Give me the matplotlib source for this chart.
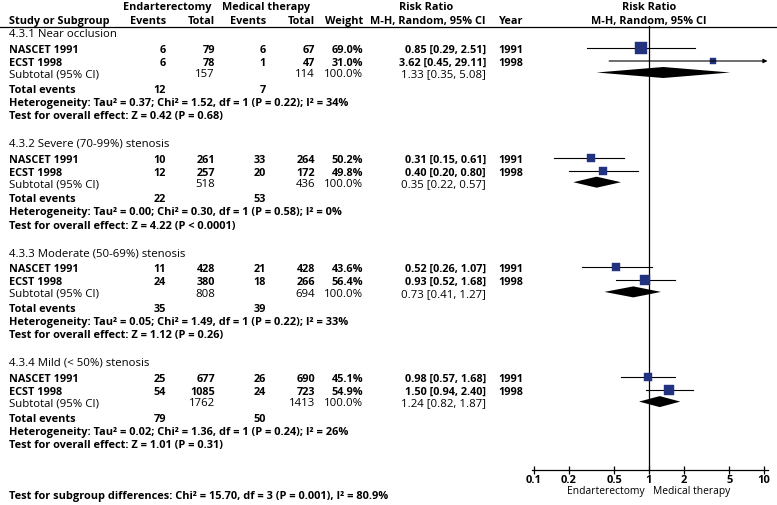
import matplotlib
matplotlib.use("Agg")
import matplotlib.pyplot as plt
import numpy as np

# subgroup data (Risk Ratio, M-H, Random, 95% CI)
subgroups = ["4.3.1 Near occlusion", "4.3.2 Severe (70-99%) stenosis",
             "4.3.3 Moderate (50-69%) stenosis", "4.3.4 Mild (< 50%) stenosis"]
studies = ["NASCET 1991", "ECST 1998"]
years = ["1991", "1998"]

end_events = [[6, 6], [10, 12], [11, 24], [25, 54]]
end_total = [[79, 78], [261, 257], [428, 380], [677, 1085]]
med_events = [[6, 1], [33, 20], [21, 18], [26, 24]]
med_total = [[67, 47], [264, 172], [428, 266], [690, 723]]
weights = [[69.0, 31.0], [50.2, 49.8], [43.6, 56.4], [45.1, 54.9]]

rr = [[0.85, 3.62], [0.31, 0.40], [0.52, 0.93], [0.98, 1.50]]
rr_lo = [[0.29, 0.45], [0.15, 0.20], [0.26, 0.52], [0.57, 0.94]]
rr_hi = [[2.51, 29.11], [0.61, 0.80], [1.07, 1.68], [1.68, 2.40]]

sub_rr = [1.33, 0.35, 0.73, 1.24]
sub_lo = [0.35, 0.22, 0.41, 0.82]
sub_hi = [5.08, 0.57, 1.27, 1.87]
sub_end_total = [157, 518, 808, 1762]
sub_med_total = [114, 436, 694, 1413]
tot_end_events = [12, 22, 35, 79]
tot_med_events = [7, 53, 39, 50]

heterogeneity = [
    "Heterogeneity: Tau\u00b2 = 0.37; Chi\u00b2 = 1.52, df = 1 (P = 0.22); I\u00b2 = 34%",
    "Heterogeneity: Tau\u00b2 = 0.00; Chi\u00b2 = 0.30, df = 1 (P = 0.58); I\u00b2 = 0%",
    "Heterogeneity: Tau\u00b2 = 0.05; Chi\u00b2 = 1.49, df = 1 (P = 0.22); I\u00b2 = 33%",
    "Heterogeneity: Tau\u00b2 = 0.02; Chi\u00b2 = 1.36, df = 1 (P = 0.24); I\u00b2 = 26%",
]
overall = [
    "Test for overall effect: Z = 0.42 (P = 0.68)",
    "Test for overall effect: Z = 4.22 (P < 0.0001)",
    "Test for overall effect: Z = 1.12 (P = 0.26)",
    "Test for overall effect: Z = 1.01 (P = 0.31)",
]
subgroup_diff = "Test for subgroup differences: Chi\u00b2 = 15.70, df = 3 (P = 0.001), I\u00b2 = 80.9%"

ticks = [0.1, 0.2, 0.5, 1, 2, 5, 10]
tick_labels = ["0.1", "0.2", "0.5", "1", "2", "5", "10"]

plt.rcParams["font.family"] = ["Open Sans", "DejaVu Sans"]

W, H = 777, 506
FS_B = 7.8     # bold table text
FS_N = 8.2     # normal table text
FS_S = 7.9     # summary lines
DY = 1.3       # vertical nudge for text baseline
NAVY = "#22327f"

fig = plt.figure(figsize=(W / 100, H / 100), dpi=100)

# text layer in pixel coordinates
bg = fig.add_axes([0, 0, 1, 1])
bg.set_xlim(0, W)
bg.set_ylim(H, 0)
bg.axis("off")

# forest panel: 1 at x=649px, 115px per decade
x_one, dec = 649, 115
lo_px, hi_px = 532, 768
top_px, axis_px = 27, 470.5
ax = fig.add_axes([lo_px / W, 1 - axis_px / H, (hi_px - lo_px) / W, (axis_px - top_px) / H])
ax.set_xscale("log")
ax.set_xlim(10 ** ((lo_px - x_one) / dec), 10 ** ((hi_px - x_one) / dec))
ax.set_ylim(axis_px, top_px)
ax.patch.set_alpha(0)
for s in ["top", "left", "right"]:
    ax.spines[s].set_visible(False)
ax.spines["bottom"].set_linewidth(0.9)
ax.set_yticks([])
ax.set_xticks(ticks)
ax.set_xticklabels(tick_labels, fontsize=8, fontweight="bold")
ax.xaxis.set_minor_locator(matplotlib.ticker.NullLocator())
ax.tick_params(axis="x", direction="inout", length=6, width=0.9, pad=0)
ax.axvline(1, color="black", lw=0.9)

ax.text(1 / 1.1, axis_px + 21.5, "Endarterectomy", ha="right", va="center", fontsize=7.4,
        transform=ax.transData, clip_on=False)
ax.text(1.09, axis_px + 21.5, "Medical therapy", ha="left", va="center", fontsize=7.4,
        transform=ax.transData, clip_on=False)

# column positions (px)
c_name = 9
c_ee, c_et, c_me, c_mt, c_w = 166, 215, 266, 315, 363
c_rr, c_year = 486, 523


def txt(x, y, s, ha="left", bold=False, size=None):
    if size is None:
        size = FS_B if bold else FS_N
    bg.text(x, y + DY, s, ha=ha, va="center", fontsize=size,
            fontweight="bold" if bold else "normal")


# header
txt(167, 6, "Endarterectomy", ha="center", bold=True)
txt(266, 6, "Medical therapy", ha="center", bold=True)
txt(426, 6, "Risk Ratio", ha="center", bold=True)
txt(649, 6, "Risk Ratio", ha="center", bold=True)
txt(c_name, 20, "Study or Subgroup", bold=True)
txt(c_ee, 20, "Events", ha="right", bold=True)
txt(c_et, 20, "Total", ha="right", bold=True)
txt(c_me, 20, "Events", ha="right", bold=True)
txt(c_mt, 20, "Total", ha="right", bold=True)
txt(c_w, 20, "Weight", ha="right", bold=True)
txt(c_rr, 20, "M-H, Random, 95% CI", ha="right", bold=True)
txt(c_year, 20, "Year", ha="right", bold=True)
txt(649, 20, "M-H, Random, 95% CI", ha="center", bold=True)
bg.plot([0, W], [27.5, 27.5], color="black", lw=0.9)

for g in range(len(subgroups)):
    y0 = 33 + 109.7 * g
    txt(c_name, y0, subgroups[g])
    for i in range(len(studies)):
        y = y0 + 16 + 13 * i
        txt(c_name, y, studies[i], bold=True)
        txt(c_ee, y, str(end_events[g][i]), ha="right", bold=True)
        txt(c_et, y, str(end_total[g][i]), ha="right", bold=True)
        txt(c_me, y, str(med_events[g][i]), ha="right", bold=True)
        txt(c_mt, y, str(med_total[g][i]), ha="right", bold=True)
        txt(c_w, y, "%.1f%%" % weights[g][i], ha="right", bold=True)
        txt(c_rr, y, "%.2f [%.2f, %.2f]" % (rr[g][i], rr_lo[g][i], rr_hi[g][i]), ha="right", bold=True)
        txt(c_year, y, years[i], ha="right", bold=True)

        # CI line, arrow if it runs off the scale
        if rr_hi[g][i] > ax.get_xlim()[1]:
            ax.annotate("", xy=(ax.get_xlim()[1] * 0.99, y), xytext=(rr_lo[g][i], y),
                        arrowprops=dict(arrowstyle="-|>", lw=0.8, color="black",
                                        mutation_scale=6, shrinkA=0, shrinkB=0),
                        annotation_clip=False)
        else:
            ax.plot([rr_lo[g][i], rr_hi[g][i]], [y, y], color="black", lw=0.8)
        side = 0.14 * weights[g][i] + 1.5
        ax.plot(rr[g][i], y, marker="s", ms=side * 0.72, color=NAVY, mec=NAVY, mew=0.3)

    ys = y0 + 40.5
    txt(c_name, ys, "Subtotal (95% CI)")
    txt(c_et, ys, str(sub_end_total[g]), ha="right")
    txt(c_mt, ys, str(sub_med_total[g]), ha="right")
    txt(c_w, ys, "100.0%", ha="right")
    txt(c_rr, ys, "%.2f [%.2f, %.2f]" % (sub_rr[g], sub_lo[g], sub_hi[g]), ha="right")
    ax.fill([sub_lo[g], sub_rr[g], sub_hi[g], sub_rr[g]], [ys, ys - 5.5, ys, ys + 5.5],
            color="black", lw=0)

    txt(c_name, y0 + 56, "Total events", bold=True, size=FS_S)
    txt(c_ee, y0 + 56, str(tot_end_events[g]), ha="right", bold=True)
    txt(c_me, y0 + 56, str(tot_med_events[g]), ha="right", bold=True)
    txt(c_name, y0 + 69, heterogeneity[g], bold=True, size=FS_S)
    txt(c_name, y0 + 82, overall[g], bold=True, size=FS_S)

txt(c_name, 495, subgroup_diff, bold=True, size=FS_S)

plt.savefig("out.png", dpi=100)
